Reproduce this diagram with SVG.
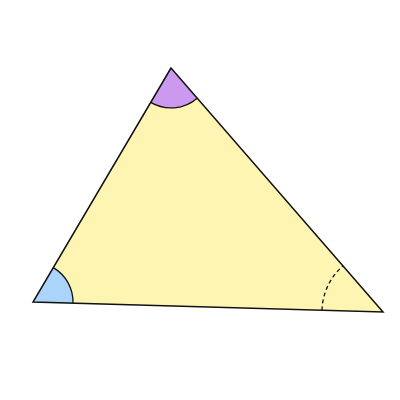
<svg xmlns="http://www.w3.org/2000/svg" width="400" height="400" viewBox="0 0 400 400">
<style>
.edge{fill:none;stroke:#111;stroke-width:1.5;stroke-linejoin:miter}
.arc{fill:none;stroke:#111;stroke-width:1.3}
</style>
<rect width="400" height="400" fill="#ffffff"/>
<g id="triangle">
<polygon points="171,68 33,302 383,312" fill="#fff5b3" stroke="none"/>
</g>
<g id="angle-top">
<path d="M171,68 L150.7,102.4 A40,40 0 0 0 197.2,98.2 Z" fill="#cc99f0"/>
<path class="arc" d="M150.7,102.4 A40,40 0 0 0 197.2,98.2"/>
</g>
<g id="angle-left">
<path d="M33,302 L73,303.1 A40,40 0 0 0 53.3,267.6 Z" fill="#aad4fa"/>
<path class="arc" d="M73,303.1 A40,40 0 0 0 53.3,267.6"/>
</g>
<g id="angle-right">
<path class="arc" d="M322,310.3 A61,61 0 0 1 343,265.9" stroke-dasharray="4,3"/>
</g>
<g id="edges">
<polygon class="edge" points="171,68 33,302 383,312"/>
</g>
</svg>
